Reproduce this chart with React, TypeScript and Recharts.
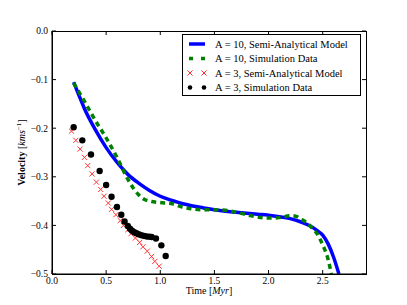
import React from "react";
import {
  ComposedChart,
  Line,
  Scatter,
  XAxis,
  YAxis,
  Legend,
} from "recharts";

// A = 10, semi-analytical model (solid blue)
const blueTime = [0.2, 0.25, 0.3, 0.4, 0.5, 0.6, 0.7, 0.8, 0.9, 1.0, 1.1, 1.2, 1.3, 1.4, 1.5, 1.6, 1.7, 1.8, 1.9, 2.0, 2.1, 2.2, 2.3, 2.4, 2.45, 2.5, 2.55, 2.6, 2.65];
const blueVel = [-0.105, -0.133, -0.16, -0.203, -0.24, -0.27, -0.295, -0.313, -0.328, -0.34, -0.348, -0.355, -0.36, -0.364, -0.368, -0.371, -0.373, -0.375, -0.377, -0.379, -0.382, -0.386, -0.393, -0.403, -0.411, -0.42, -0.438, -0.465, -0.5];

// A = 10, simulation data (dashed green)
const greenTime = [0.2, 0.3, 0.4, 0.5, 0.6, 0.7, 0.75, 0.8, 0.85, 0.9, 1.0, 1.1, 1.2, 1.3, 1.4, 1.5, 1.6, 1.7, 1.8, 1.9, 2.0, 2.1, 2.2, 2.25, 2.3, 2.35, 2.4, 2.45, 2.5, 2.55, 2.58];
const greenVel = [-0.107, -0.145, -0.184, -0.22, -0.26, -0.305, -0.323, -0.337, -0.346, -0.35, -0.353, -0.355, -0.362, -0.366, -0.368, -0.368, -0.369, -0.373, -0.378, -0.383, -0.385, -0.384, -0.38, -0.381, -0.387, -0.394, -0.405, -0.418, -0.44, -0.47, -0.5];

// A = 3, semi-analytical model (red crosses)
const redTime = [0.18, 0.22, 0.26, 0.3, 0.33, 0.37, 0.41, 0.45, 0.48, 0.52, 0.55, 0.59, 0.63, 0.66, 0.7, 0.73, 0.77, 0.81, 0.84, 0.88, 0.92, 0.95, 0.99];
const redVel = [-0.206, -0.225, -0.243, -0.26, -0.277, -0.294, -0.311, -0.326, -0.34, -0.354, -0.367, -0.378, -0.39, -0.4, -0.409, -0.417, -0.426, -0.435, -0.444, -0.453, -0.464, -0.474, -0.484];

// A = 3, simulation data (black dots)
const blackTime = [0.2, 0.28, 0.36, 0.44, 0.5, 0.55, 0.6, 0.64, 0.67, 0.7, 0.72, 0.74, 0.76, 0.78, 0.8, 0.82, 0.84, 0.86, 0.88, 0.9, 0.92, 0.96, 1.01, 1.05];
const blackVel = [-0.198, -0.225, -0.254, -0.288, -0.317, -0.341, -0.362, -0.378, -0.392, -0.401, -0.407, -0.411, -0.414, -0.416, -0.418, -0.42, -0.421, -0.422, -0.423, -0.423, -0.424, -0.427, -0.441, -0.463];

const xTicks = [0, 0.5, 1.0, 1.5, 2.0, 2.5];
const yTicks = [0, -0.1, -0.2, -0.3, -0.4, -0.5];

const legendLabels = [
  "A = 10, Semi-Analytical Model",
  "A = 10, Simulation Data",
  "A = 3, Semi-Analytical Model",
  "A = 3, Simulation Data",
];

const zip = (xs: number[], ys: number[]) => xs.map((x, i) => ({ x, y: ys[i] }));

const blueData = zip(blueTime, blueVel);
const greenData = zip(greenTime, greenVel);
const redData = zip(redTime, redVel);
const blackData = zip(blackTime, blackVel);

const W = 407;
const H = 305;
const MARGIN = { top: 31, right: 41, bottom: 11, left: 0 };
const Y_AXIS_W = 52;
const X_AXIS_H = 20;
const FONT = "'Liberation Serif', 'DejaVu Serif', serif";
const RED = "#ff3333";
const TICK_LEN = 4;

const fmt = (v: number) => (v < 0 ? "\u2212" + Math.abs(v).toFixed(1) : v.toFixed(1));

const Cross = (props: any) => {
  const { cx, cy } = props;
  const s = 2.6;
  return (
    <g stroke={RED} strokeWidth={1}>
      <line x1={cx - s} y1={cy - s} x2={cx + s} y2={cy + s} />
      <line x1={cx - s} y1={cy + s} x2={cx + s} y2={cy - s} />
    </g>
  );
};

const Dot = (props: any) => {
  const { cx, cy } = props;
  return <circle cx={cx} cy={cy} r={3.2} fill="#000" />;
};

// bottom tick label + matching inward tick on the top frame edge
const XTick = (props: any) => {
  const { x, y, payload } = props;
  return (
    <g>
      <line x1={x} x2={x} y1={MARGIN.top} y2={MARGIN.top + TICK_LEN} stroke="#000" />
      <text x={x} y={y} dy="0.75em" textAnchor="middle" fontFamily={FONT} fontSize={9.5} fill="#000">
        {fmt(payload.value)}
      </text>
    </g>
  );
};

// left tick label + matching inward tick on the right frame edge
const YTick = (props: any) => {
  const { x, y, payload } = props;
  const right = W - MARGIN.right;
  return (
    <g>
      <line x1={right} x2={right - TICK_LEN} y1={y} y2={y} stroke="#000" />
      <text x={x} y={y} dy="0.355em" textAnchor="end" fontFamily={FONT} fontSize={9.5} fill="#000">
        {fmt(payload.value)}
      </text>
    </g>
  );
};

const LegendBox = () => {
  const row = 14.5;
  return (
    <div
      style={{
        border: "1px solid #000",
        background: "#fff",
        width: 179,
        height: 62,
        boxSizing: "border-box",
      }}
    >
      <svg width={177} height={60} style={{ display: "block" }}>
        {legendLabels.map((label, i) => {
          const y = 9 + i * row;
          return (
            <g key={label}>
              {i === 0 && <line x1={6} x2={22} y1={y} y2={y} stroke="#0000ff" strokeWidth={3.5} />}
              {i === 1 && (
                <line x1={6} x2={22} y1={y} y2={y} stroke="#008000" strokeWidth={3.5} strokeDasharray="4 8" />
              )}
              {i === 2 && (
                <>
                  <Cross cx={7} cy={y} />
                  <Cross cx={21} cy={y} />
                </>
              )}
              {i === 3 && (
                <>
                  <circle cx={7} cy={y} r={2.3} fill="#000" />
                  <circle cx={21} cy={y} r={2.3} fill="#000" />
                </>
              )}
              <text x={32} y={y + 3.5} fontFamily={FONT} fontSize={10.5} fill="#000">
                {label}
              </text>
            </g>
          );
        })}
      </svg>
    </div>
  );
};

const XLabel = (props: any) => {
  const { viewBox } = props;
  const cx = viewBox.x + viewBox.width / 2;
  return (
    <text x={cx} y={viewBox.y + 20} textAnchor="middle" fontFamily={FONT} fontSize={10} fill="#000">
      Time [<tspan fontStyle="italic">Myr</tspan>]
    </text>
  );
};

const YLabel = (props: any) => {
  const { viewBox } = props;
  const cy = viewBox.y + viewBox.height / 2;
  const x = 25;
  return (
    <text
      x={x}
      y={cy}
      transform={`rotate(-90, ${x}, ${cy})`}
      textAnchor="middle"
      fontFamily={FONT}
      fontSize={10}
      fill="#000"
    >
      <tspan fontWeight="bold">Velocity</tspan> [<tspan fontStyle="italic">kms</tspan>
      <tspan fontSize={7} dy={-4}>{"\u22121"}</tspan>
      <tspan dy={4}>]</tspan>
    </text>
  );
};

export default function App() {
  // box around the plot area, laid over the svg
  const plotLeft = MARGIN.left + Y_AXIS_W;
  const plotRight = W - MARGIN.right;
  const plotBottom = H - MARGIN.bottom - X_AXIS_H;
  return (
    <div style={{ position: "absolute", left: 0, top: 0, width: W, height: H, background: "#fff" }}>
      <ComposedChart width={W} height={H} margin={MARGIN}>
        <XAxis
          type="number"
          dataKey="x"
          domain={[0, 2.9]}
          ticks={xTicks}
          tick={<XTick />}
          tickSize={-TICK_LEN}
          tickMargin={7}
          height={X_AXIS_H}
          stroke="#000"
          allowDataOverflow
          label={<XLabel />}
        />
        <YAxis
          type="number"
          dataKey="y"
          domain={[-0.5, 0]}
          ticks={yTicks}
          tick={<YTick />}
          tickSize={-TICK_LEN}
          tickMargin={8}
          width={Y_AXIS_W}
          stroke="#000"
          allowDataOverflow
          label={<YLabel />}
        />
        <Line
          data={blueData}
          dataKey="y"
          type="monotone"
          stroke="#0000ff"
          strokeWidth={3.5}
          dot={false}
          isAnimationActive={false}
        />
        <Line
          data={greenData}
          dataKey="y"
          type="monotone"
          stroke="#008000"
          strokeWidth={3.5}
          strokeDasharray="5 4"
          dot={false}
          isAnimationActive={false}
        />
        <Scatter data={redData} dataKey="y" shape={<Cross />} isAnimationActive={false} />
        <Scatter data={blackData} dataKey="y" shape={<Dot />} isAnimationActive={false} />
        <Legend
          verticalAlign="middle"
          align="center"
          layout="vertical"
          content={<LegendBox />}
          wrapperStyle={{ position: "absolute", left: 182, top: 34, width: 179 }}
        />
      </ComposedChart>
      <div
        style={{
          position: "absolute",
          left: plotLeft,
          top: MARGIN.top,
          width: plotRight - plotLeft + 1,
          height: plotBottom - MARGIN.top + 1,
          border: "1px solid #000",
          boxSizing: "border-box",
          pointerEvents: "none",
        }}
      />
    </div>
  );
}
